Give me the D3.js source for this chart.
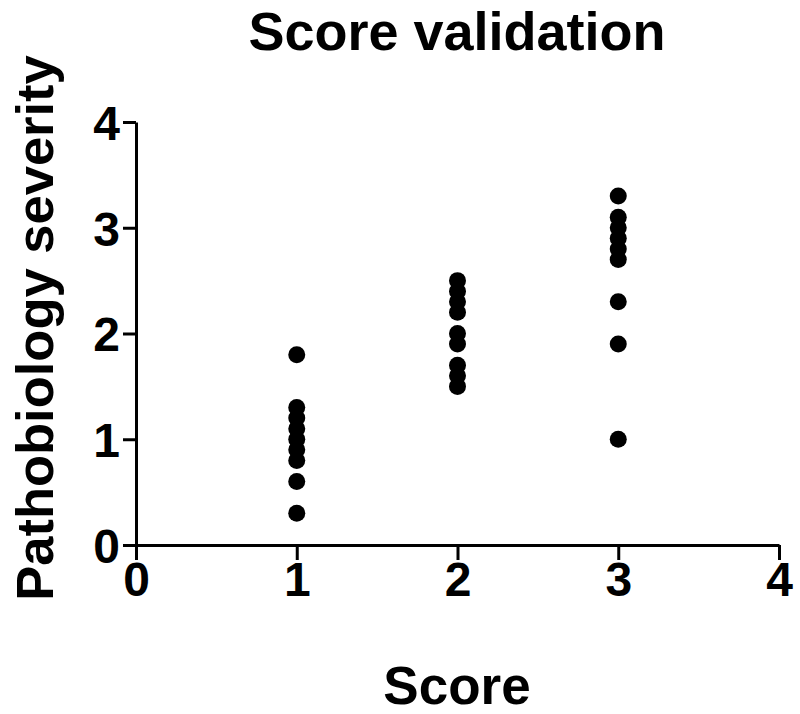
<!DOCTYPE html>
<meta charset="utf-8">
<style>
body { margin: 0; background: #fff; }
text { font-family: "Liberation Sans", Arial, sans-serif; font-weight: bold; fill: #000; }
.axis path, .axis line { stroke: #000; stroke-width: 3px; }
</style>
<body>
<svg width="800" height="714"></svg>
<script src="https://cdn.jsdelivr.net/npm/d3@7"></script>
<script>
// values, one list per score group
var scores = [1, 2, 3];
var severity1 = [1.8, 1.3, 1.2, 1.1, 1.0, 0.9, 0.8, 0.6, 0.3];
var severity2 = [2.5, 2.4, 2.3, 2.2, 2.0, 1.9, 1.7, 1.6, 1.5];
var severity3 = [3.3, 3.1, 3.0, 2.9, 2.8, 2.7, 2.3, 1.9, 1.0];
var xTicks = [0, 1, 2, 3, 4];
var yTicks = [0, 1, 2, 3, 4];

var groups = [severity1, severity2, severity3];
var points = [];
scores.forEach(function(s, i) {
  groups[i].forEach(function(v) { points.push({x: s, y: v}); });
});

var svg = d3.select("svg");

//plot area
var x = d3.scaleLinear().domain([0, 4]).range([136, 779]);
var y = d3.scaleLinear().domain([0, 4]).range([545, 122]);

var xAxis = svg.append("g")
    .attr("class", "axis")
    .attr("transform", "translate(0,545)")
    .call(d3.axisBottom(x).tickValues(xTicks).tickFormat(d3.format("d")).tickSize(15).tickSizeOuter(0).tickPadding(2));

var yAxis = svg.append("g")
    .attr("class", "axis")
    .attr("transform", "translate(136,0)")
    .call(d3.axisLeft(y).tickValues(yTicks).tickFormat(d3.format("d")).tickSize(13).tickSizeOuter(0).tickPadding(3));

svg.selectAll(".axis text")
    .style("font-size", "48px")
    .style("font-family", "'Liberation Sans', Arial, sans-serif")
    .style("font-weight", "bold")
    .attr("fill", "#000");
yAxis.selectAll("text").attr("dy", "0.36em");

svg.selectAll("circle.pt")
  .data(points)
  .enter().append("circle")
    .attr("class", "pt")
    .attr("cx", function(d) { return x(d.x); })
    .attr("cy", function(d) { return y(d.y); })
    .attr("r", 8.5)
    .style("fill", "#000");

//titles
svg.append("text")
    .attr("x", 457)
    .attr("y", 50)
    .attr("text-anchor", "middle")
    .style("font-size", "54px")
    .text("Score validation");

svg.append("text")
    .attr("x", 457)
    .attr("y", 704)
    .attr("text-anchor", "middle")
    .style("font-size", "53px")
    .text("Score");

svg.append("text")
    .attr("transform", "translate(53,328) rotate(-90)")
    .attr("text-anchor", "middle")
    .style("font-size", "52.5px")
    .text("Pathobiology severity");
</script>
</body>
